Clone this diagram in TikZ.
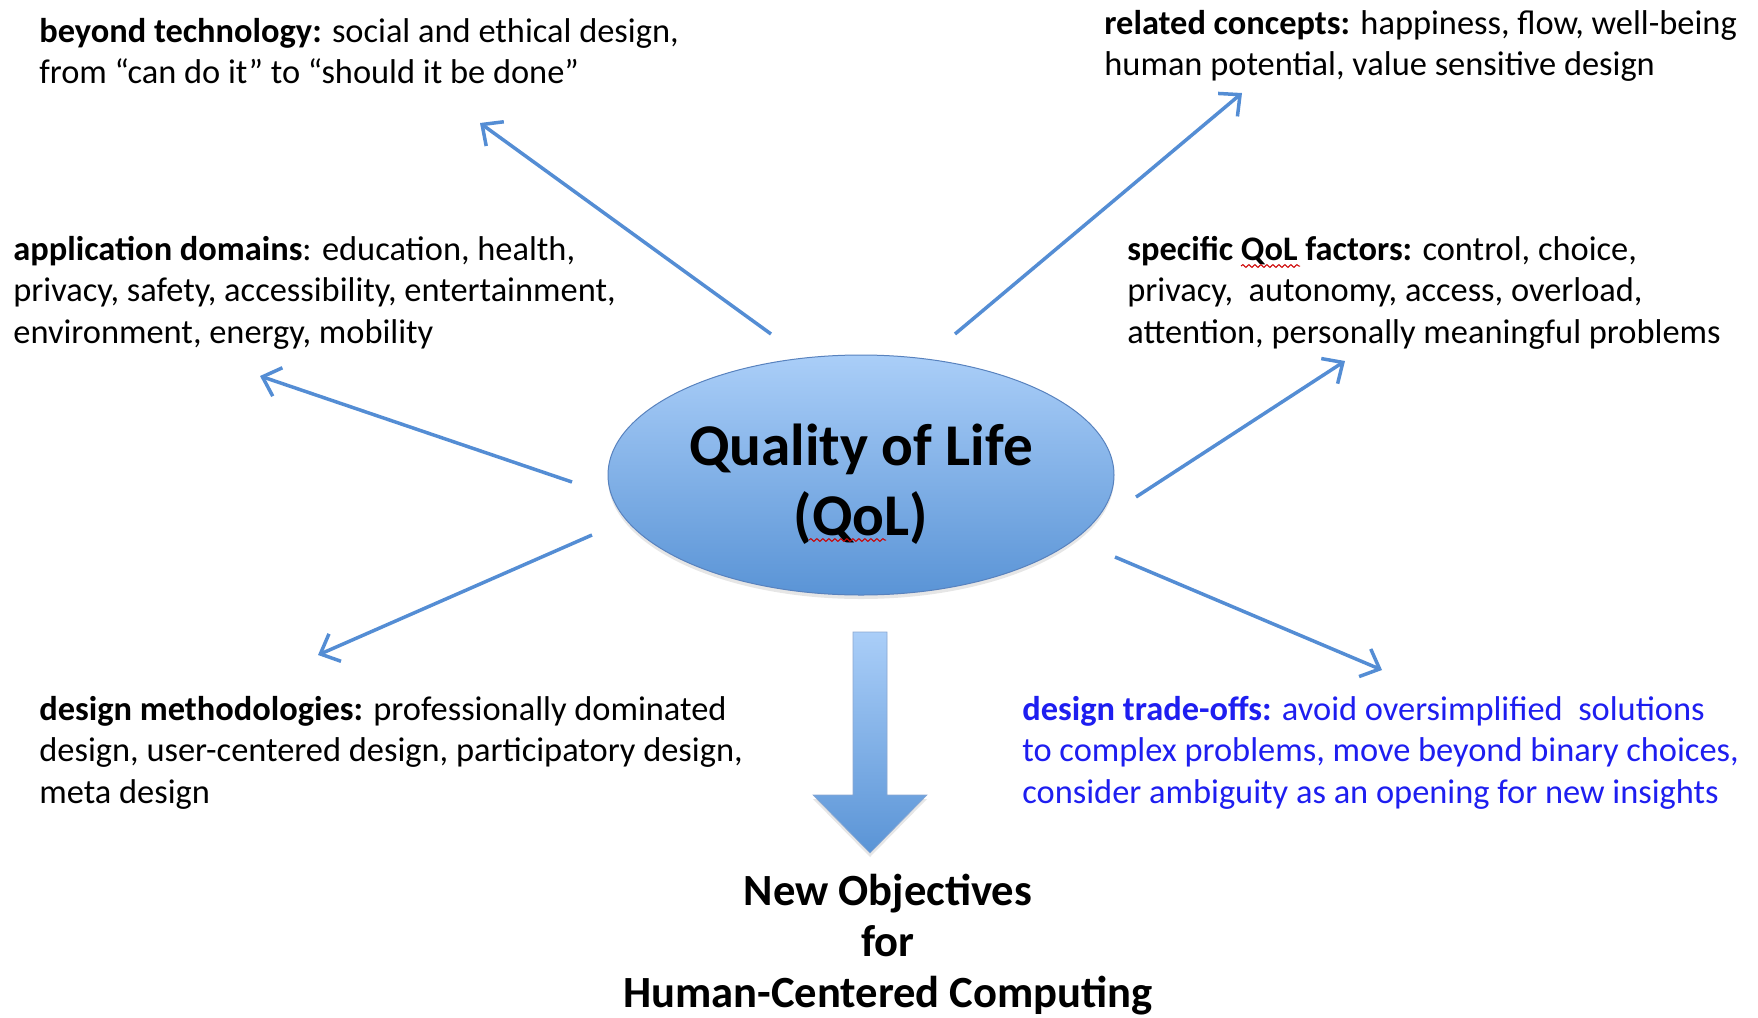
\documentclass[tikz,border=0pt]{standalone}
\usepackage{fontspec}
\setmainfont{Carlito}
\usetikzlibrary{arrows.meta,positioning,shapes.geometric,shadows,decorations.pathmorphing}

\definecolor{qolblue}{RGB}{84,141,212}
\definecolor{qoltop}{RGB}{170,206,248}
\definecolor{qolbottom}{RGB}{90,148,214}
\definecolor{qoledge}{RGB}{88,130,190}
\definecolor{tradeblue}{RGB}{30,30,240}

\tikzset{
  topic/.style={align=left, anchor=north west, inner sep=0pt,
    font=\fontsize{17.2}{20.7}\selectfont},
  spoke/.style={color=qolblue, line width=1.75pt,
    -{Straight Barb[length=8pt,width=15pt]}},
  squiggle/.style={draw=red!80!black, line width=0.5pt, decorate,
    decoration={snake,amplitude=0.7pt,segment length=3pt}}
}

\begin{document}
\begin{tikzpicture}[x=0.5pt,y=-0.5pt]
	\useasboundingbox (0,0) rectangle (1758,1018);

	% the centre of the whole thing
	\node[ellipse, minimum width=253pt, minimum height=120pt, inner sep=0pt,
		top color=qoltop, bottom color=qolbottom, draw=qoledge, line width=0.5pt,
		drop shadow={opacity=0.2,shadow xshift=0pt,shadow yshift=-2pt}]
		(qol) at (861,475) {};
	\node[align=center, font=\fontsize{29.6}{35}\selectfont\bfseries]
		(qoltext) at (861,484) {Quality of Life\\(QoL)};
	\draw[squiggle] (809,540) -- (886,540);

	% the six topics round it
	\node[topic] (tech) at (39,18)
		{\textbf{beyond technology:} social and ethical design,\\
		 from “can do it” to “should it be done”};
	\node[topic] (concepts) at (1104,10)
		{\textbf{related concepts:} happiness, flow, well-being\\
		 human potential, value sensitive design};
	\node[topic] (domains) at (13,236)
		{\textbf{application domains}: education, health,\\
		 privacy, safety, accessibility, entertainment,\\
		 environment, energy, mobility};
	\node[topic] (factors) at (1127,236)
		{\textbf{specific QoL factors:} control, choice,\\
		 privacy,\ \ autonomy, access, overload,\\
		 attention, personally meaningful problems};
	\draw[squiggle] (1241,266) -- (1300,266);
	\node[topic] (methods) at (39,696)
		{\textbf{design methodologies:} professionally dominated\\
		 design, user-centered design, participatory design,\\
		 meta design};
	\node[topic, text=tradeblue] (tradeoffs) at (1022,696)
		{\textbf{design trade-offs:} avoid oversimplified\ \ solutions\\
		 to complex problems, move beyond binary choices,\\
		 consider ambiguity as an opening for new insights};

	% where the arrows start and end
	\coordinate (tech-s) at (771,334);      \coordinate (tech-e) at (480,123);
	\coordinate (concepts-s) at (955,334);  \coordinate (concepts-e) at (1242,93);
	\coordinate (domains-s) at (572,482);   \coordinate (domains-e) at (260,376);
	\coordinate (factors-s) at (1136,497);  \coordinate (factors-e) at (1345,361);
	\coordinate (methods-s) at (592,535);   \coordinate (methods-e) at (318,655);
	\coordinate (tradeoffs-s) at (1115,557);\coordinate (tradeoffs-e) at (1382,670);

	\path[spoke]
	(tech-s) edge (tech-e)
	(concepts-s) edge (concepts-e)
	(domains-s) edge (domains-e)
	(factors-s) edge (factors-e)
	(methods-s) edge (methods-e)
	(tradeoffs-s) edge (tradeoffs-e)
	;

	% big arrow down to the objectives
	\shade[top color=qoltop, bottom color=qolbottom, draw=qoledge!70, line width=0.3pt,
		drop shadow={opacity=0.2,shadow xshift=0pt,shadow yshift=-2pt}]
		(853,632) -- (887,632) -- (887,795) -- (927,795) -- (870,853)
		-- (813,795) -- (853,795) -- cycle;

	\node[align=center, inner sep=0pt, anchor=north,
		font=\fontsize{22.3}{25.5}\selectfont\bfseries]
		(goal) at (888,874) {New Objectives\\for\\Human-Centered Computing};
\end{tikzpicture}
\end{document}
